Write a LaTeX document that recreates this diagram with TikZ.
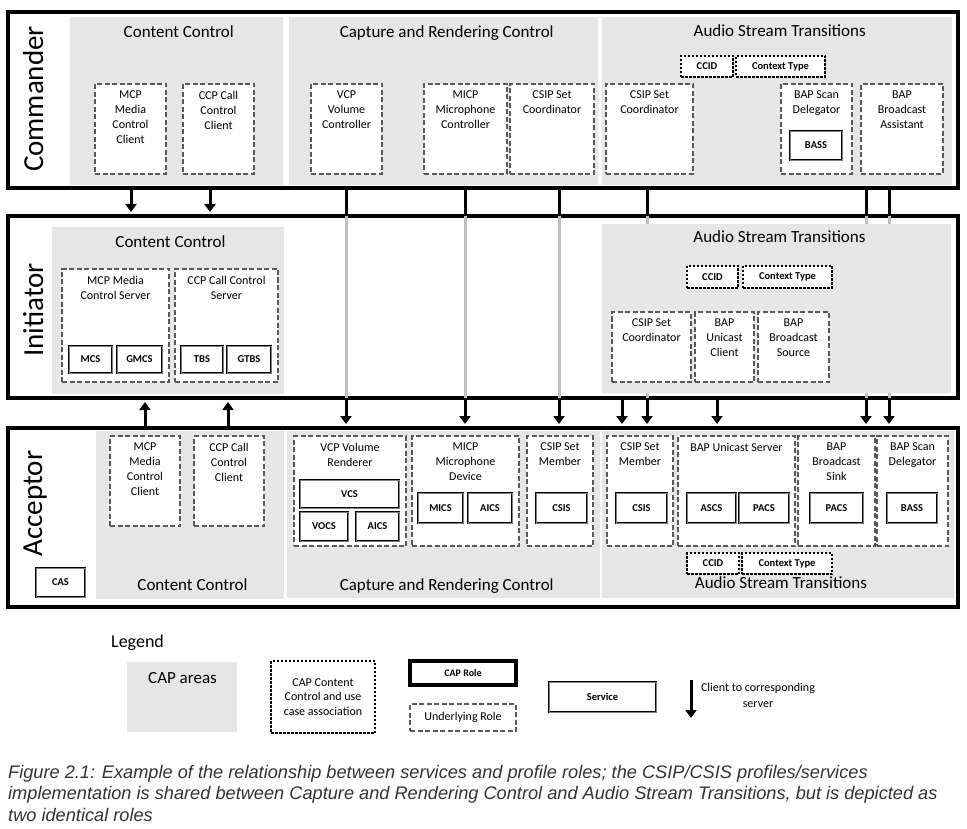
\documentclass[tikz,border=0pt]{standalone}
\usepackage{fontspec}
\setmainfont{Carlito}
\newfontfamily\capfont{Liberation Sans}
\usetikzlibrary{positioning}
\usetikzlibrary{arrows.meta}

\definecolor{areagray}{HTML}{E6E6E6}
\definecolor{rolegray}{HTML}{595959}
\definecolor{linkgray}{HTML}{C0C0C0}
\definecolor{capgray}{HTML}{333333}

\begin{document}
\begin{tikzpicture}[x=1pt, y=-1pt,
  layer/.style={draw, line width=4pt, fill=white, inner sep=0},
  area/.style={fill=areagray, inner sep=0},
  areatitle/.style={anchor=base, font=\fontsize{17}{20}\selectfont, inner sep=0},
  side/.style={anchor=base, rotate=90, font=\fontsize{29}{34}\selectfont, inner sep=0},
  role/.style={draw=rolegray, line width=2pt, dash pattern=on 5pt off 2.5pt, fill=white, inner sep=0},
  roletext/.style={anchor=north, align=center, font=\fontsize{12}{15}\selectfont, inner sep=0, yshift=-8pt},
  service/.style={draw=black, line width=1pt, double=gray, double distance=0.8pt, fill=white, inner sep=0, font=\bfseries\fontsize{10.5}{12}\selectfont},
  usecase/.style={draw, line width=2.5pt, dash pattern=on 2.5pt off 1.5pt, fill=white, inner sep=0, font=\bfseries\fontsize{10.5}{12}\selectfont},
  flow/.style={line width=3pt, -{Triangle[width=11pt, length=8pt]}, shorten >=2pt},
  link/.style={line width=3pt},
  thru/.style={line width=3pt, draw=linkgray, shorten <=2pt, shorten >=2pt}
]
\useasboundingbox (0,0) rectangle (967,829);

% the three layers
\node[layer, minimum width=950, minimum height=176] (cmd) at (483,100) {};
\node[layer, minimum width=950, minimum height=182] (ini) at (483,307) {};
\node[layer, minimum width=950, minimum height=179] (acc) at (483,517.5) {};

% client to server links
\foreach \n/\x in {ccA/131, ccB/210, ccC/145, ccD/228, vcpX/346, micpX/465, csipX/559,
                   astA/647, astB/866, astC/889, csipY/622, bapX/717}
  \coordinate (\n) at (\x,0);
\foreach \n in {vcpX, micpX, csipX, astA, astB, astC} {
  \draw[link] (cmd.south -| \n) -- (ini.north -| \n);
  \draw[thru] (ini.north -| \n) -- (ini.south -| \n);
  \draw[flow] (ini.south -| \n) -- (acc.north -| \n);
}
\draw[flow] (cmd.south -| ccA) -- (ini.north -| ccA);
\draw[flow] (cmd.south -| ccB) -- (ini.north -| ccB);
\draw[flow] (acc.north -| ccC) -- (ini.south -| ccC);
\draw[flow] (acc.north -| ccD) -- (ini.south -| ccD);
\draw[flow] (ini.south -| csipY) -- (acc.north -| csipY);
\draw[flow] (ini.south -| bapX) -- (acc.north -| bapX);

% Commander
\node[side] (cmdT) at (43,99) {Commander};
\node[area, minimum width=213, minimum height=168] (cmdcc) at (176.5,101) {};
\node[area, minimum width=309, minimum height=168] (cmdcrc) at (443.5,101) {};
\node[area, minimum width=350, minimum height=168] (cmdast) at (777,101) {};
\node[areatitle] (cmdccT) at (178.8,38) {Content Control};
\node[areatitle] (cmdcrcT) at (446.7,38) {Capture and Rendering Control};
\node[areatitle] (cmdastT) at (779.7,37) {Audio Stream Transitions};
\node[role, minimum width=71, minimum height=90] (cmdmcp) at (130.5,129) {};
\node[roletext] (cmdmcpT) at (cmdmcp.north) {MCP\\Media\\Control\\Client};
\node[role, minimum width=71, minimum height=90] (cmdccp) at (218.5,129) {};
\node[roletext] (cmdccpT) at (cmdccp.north) {CCP Call\\Control\\Client};
\node[role, minimum width=71, minimum height=90] (cmdvcp) at (346.5,129) {};
\node[roletext] (cmdvcpT) at (cmdvcp.north) {VCP\\Volume\\Controller};
\node[role, minimum width=83, minimum height=90] (cmdmicp) at (465.5,129) {};
\node[roletext] (cmdmicpT) at (cmdmicp.north) {MICP\\Microphone\\Controller};
\node[role, minimum width=84, minimum height=90] (cmdcsip) at (552,129) {};
\node[roletext] (cmdcsipT) at (cmdcsip.north) {CSIP Set\\Coordinator};
\node[role, minimum width=87, minimum height=90] (cmdcsipB) at (649.5,129) {};
\node[roletext] (cmdcsipBT) at (cmdcsipB.north) {CSIP Set\\Coordinator};
\node[role, minimum width=71, minimum height=90] (cmdscan) at (816.5,129) {};
\node[roletext] (cmdscanT) at (cmdscan.north) {BAP Scan\\Delegator};
\node[service, minimum width=52, minimum height=29] (cmdbass) at (816,145.5) {BASS};
\node[role, minimum width=82, minimum height=90] (cmdbaa) at (902,129) {};
\node[roletext] (cmdbaaT) at (cmdbaa.north) {BAP\\Broadcast\\Assistant};
\node[usecase, minimum width=52, minimum height=21] (cmdccid) at (707,66.5) {CCID};
\node[usecase, minimum width=89, minimum height=21] (cmdctx) at (780.5,66.5) {Context Type};

% Initiator
\node[side] (iniT) at (43,310) {Initiator};
\node[area, minimum width=232, minimum height=167] (inicc) at (168,310.5) {};
\node[area, minimum width=349, minimum height=169] (iniast) at (776.5,308.5) {};
\node[areatitle] (iniccT) at (170.5,248) {Content Control};
\node[areatitle] (iniastT) at (779.5,243) {Audio Stream Transitions};
\node[role, minimum width=107, minimum height=113] (inimcp) at (115.5,325.5) {};
\node[roletext] (inimcpT) at (inimcp.north) {MCP Media\\Control Server};
\node[role, minimum width=103, minimum height=113] (iniccp) at (226.5,325.5) {};
\node[roletext] (iniccpT) at (iniccp.north) {CCP Call Control\\Server};
\node[service, minimum width=43, minimum height=27] (inimcs) at (90.5,359.5) {MCS};
\node[service, minimum width=45, minimum height=27] (inigmcs) at (139.5,359.5) {GMCS};
\node[service, minimum width=42, minimum height=27] (initbs) at (202,359.5) {TBS};
\node[service, minimum width=44, minimum height=27] (inigtbs) at (249,359.5) {GTBS};
\node[usecase, minimum width=51, minimum height=22] (iniccid) at (712.5,277) {CCID};
\node[usecase, minimum width=89, minimum height=22] (inictx) at (787.5,277) {Context Type};
\node[role, minimum width=79, minimum height=70] (inicsip) at (651.5,347) {};
\node[roletext] (inicsipT) at (inicsip.north) {CSIP Set\\Coordinator};
\node[role, minimum width=59, minimum height=70] (iniuc) at (724.5,347) {};
\node[roletext] (iniucT) at (iniuc.north) {BAP\\Unicast\\Client};
\node[role, minimum width=71, minimum height=70] (inibs) at (793.5,347) {};
\node[roletext] (inibsT) at (inibs.north) {BAP\\Broadcast\\Source};

% Acceptor
\node[side] (accT) at (42,503.5) {Acceptor};
\node[area, minimum width=188, minimum height=168] (acccc) at (190,515) {};
\node[area, minimum width=313, minimum height=167] (acccrc) at (443.5,514.5) {};
\node[area, minimum width=352, minimum height=167] (accast) at (778,514.5) {};
\node[areatitle] (accccT) at (192.5,590) {Content Control};
\node[areatitle] (acccrcT) at (446.7,590) {Capture and Rendering Control};
\node[areatitle] (accastT) at (781,588) {Audio Stream Transitions};
\node[service, minimum width=49, minimum height=29] (acccas) at (60.5,582.5) {CAS};
\node[role, minimum width=70, minimum height=90] (accmcp) at (145,481) {};
\node[roletext] (accmcpT) at (accmcp.north) {MCP\\Media\\Control\\Client};
\node[role, minimum width=70, minimum height=90] (accccp) at (229,481) {};
\node[roletext] (accccpT) at (accccp.north) {CCP Call\\Control\\Client};
\node[role, minimum width=112, minimum height=110] (accvcp) at (350,491) {};
\node[roletext] (accvcpT) at (accvcp.north) {VCP Volume\\Renderer};
\node[service, minimum width=99, minimum height=28] (accvcs) at (349.5,494) {VCS};
\node[service, minimum width=48, minimum height=29] (accvocs) at (324,526.5) {VOCS};
\node[service, minimum width=43, minimum height=29] (accaicsA) at (377.5,526.5) {AICS};
\node[role, minimum width=107, minimum height=110] (accmicp) at (465.5,491) {};
\node[roletext] (accmicpT) at (accmicp.north) {MICP\\Microphone\\Device};
\node[service, minimum width=45, minimum height=30] (accmics) at (440.5,508) {MICS};
\node[service, minimum width=44, minimum height=30] (accaicsB) at (490,508) {AICS};
\node[role, minimum width=66, minimum height=110] (acccsip) at (560,491) {};
\node[roletext] (acccsipT) at (acccsip.north) {CSIP Set\\Member};
\node[service, minimum width=51, minimum height=30] (acccsis) at (561.5,508) {CSIS};
\node[role, minimum width=66, minimum height=110] (acccsipB) at (640,491) {};
\node[roletext] (acccsipBT) at (acccsipB.north) {CSIP Set\\Member};
\node[service, minimum width=51, minimum height=30] (acccsisB) at (641.5,508) {CSIS};
\node[role, minimum width=117, minimum height=110] (accuc) at (736.5,491) {};
\node[roletext] (accucT) at (accuc.north) {BAP Unicast Server};
\node[service, minimum width=49, minimum height=30] (accascs) at (711.5,508) {ASCS};
\node[service, minimum width=50, minimum height=30] (accpacs) at (764,508) {PACS};
\node[role, minimum width=77, minimum height=110] (accbs) at (836.5,491) {};
\node[roletext] (accbsT) at (accbs.north) {BAP\\Broadcast\\Sink};
\node[service, minimum width=53, minimum height=30] (accpacsB) at (836.5,508) {PACS};
\node[role, minimum width=71, minimum height=110] (accscan) at (912.5,491) {};
\node[roletext] (accscanT) at (accscan.north) {BAP Scan\\Delegator};
\node[service, minimum width=50, minimum height=30] (accbass) at (912,508) {BASS};
\node[usecase, minimum width=52, minimum height=21] (accccid) at (713,563.5) {CCID};
\node[usecase, minimum width=90, minimum height=21] (accctx) at (787,563.5) {Context Type};

% legend
\node[anchor=base west, inner sep=0, font=\fontsize{18}{22}\selectfont] (legT) at (111,647) {Legend};
\node[area, minimum width=110, minimum height=70] (legarea) at (182,697) {};
\node[anchor=base, inner sep=0, font=\fontsize{17}{20}\selectfont] (legareaT) at (182.5,683) {CAP areas};
\node[usecase, minimum width=104, minimum height=72, align=center, font=\fontsize{12}{14.5}\selectfont] (leguse) at (323,697) {CAP Content\\Control and use\\case association};
\node[draw, line width=3.5pt, minimum width=106, minimum height=24, inner sep=0, font=\bfseries\fontsize{10}{12}\selectfont] (legrole) at (463,673) {CAP Role};
\node[role, minimum width=106, minimum height=27, font=\fontsize{12}{14}\selectfont] (legunder) at (463,717.5) {Underlying Role};
\node[service, minimum width=107, minimum height=30] (legsrv) at (602.5,697) {Service};
\coordinate (legA) at (691,680);
\coordinate (legB) at (691,718);
\draw[flow, shorten >=0pt] (legA) -- (legB);
\node[align=center, inner sep=0, font=\fontsize{12}{16}\selectfont] (legflowT) at (758,695) {Client to corresponding\\server};

% caption
\node[anchor=north west, inner sep=0, align=left, text=capgray,
      font=\capfont\itshape\fontsize{18.2}{21.5}\selectfont] (caption) at (8,765)
  {Figure 2.1: Example of the relationship between services and profile roles; the CSIP/CSIS profiles/services\\
   implementation is shared between Capture and Rendering Control and Audio Stream Transitions, but is depicted as\\
   two identical roles};
\end{tikzpicture}
\end{document}
